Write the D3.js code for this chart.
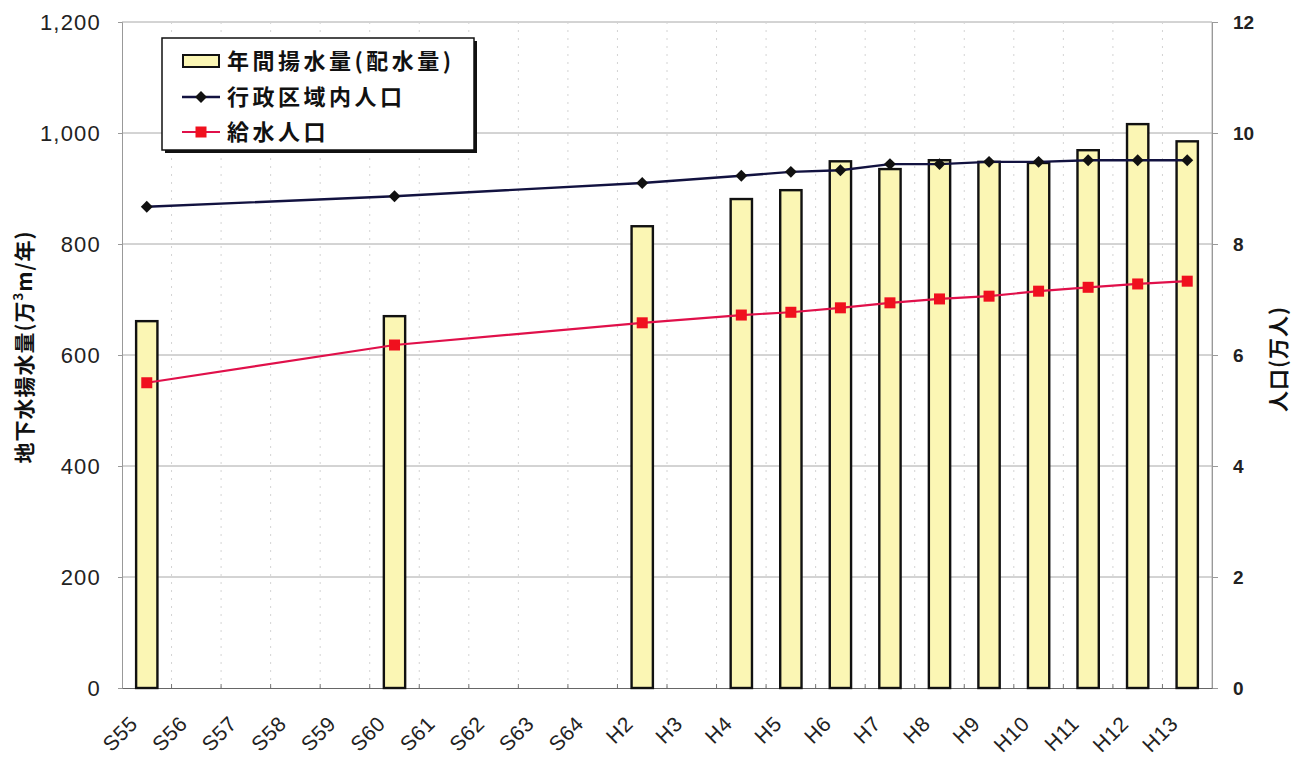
<!DOCTYPE html>
<html>
<head>
<meta charset="utf-8">
<script src="https://cdn.jsdelivr.net/npm/d3@7"></script>
<style>
  body { margin: 0; background: #fff; }
  text { font-family: "Liberation Sans", Arial, sans-serif; }
  .jp { font-family: "Noto Sans CJK JP", sans-serif; font-weight: bold; }
</style>
</head>
<body>
<div id="chart"></div>
<script>
// categories (fiscal years)
var categories = ["S55","S56","S57","S58","S59","S60","S61","S62","S63","S64",
                  "H2","H3","H4","H5","H6","H7","H8","H9","H10","H11","H12","H13"];

// annual pumped volume (万m3/年), null = no data
var pumping = [661,null,null,null,null,670,null,null,null,null,
               832,null,881,897,949,935,951,948,946,969,1016,985];

// population in administrative area (万人)
var adminPop = [8.67,null,null,null,null,8.86,null,null,null,null,
                9.10,null,9.23,9.30,9.33,9.44,9.44,9.48,9.48,9.51,9.51,9.51];

// served population (万人)
var servedPop = [5.50,null,null,null,null,6.18,null,null,null,null,
                 6.58,null,6.72,6.77,6.85,6.94,7.01,7.06,7.15,7.22,7.28,7.33];

var leftTicks = [0,200,400,600,800,1000,1200];
var rightTicks = [0,2,4,6,8,10,12];

var legendLabels = ["年間揚水量(配水量)", "行政区域内人口", "給水人口"];

// SVG area
var svgWidth = 1307;
var svgHeight = 760;

var margin = { top: 22, right: 95, bottom: 72, left: 122 };

var width = svgWidth - margin.left - margin.right;
var height = svgHeight - margin.top - margin.bottom;

var svg = d3.select("#chart")
    .append("svg")
    .attr("width", svgWidth)
    .attr("height", svgHeight);

var chartGroup = svg.append("g").attr("transform", `translate(${margin.left}, ${margin.top})`);

// scales
var xScale = d3.scaleBand().domain(categories).range([0, width]);
var yLeft = d3.scaleLinear().domain([0, 1200]).range([height, 0]);
var yRight = d3.scaleLinear().domain([0, 12]).range([height, 0]);

// horizontal gridlines
chartGroup.append("g")
    .selectAll("line")
    .data(leftTicks.slice(1))
    .enter()
    .append("line")
    .attr("x1", 0)
    .attr("x2", width)
    .attr("y1", d => yLeft(d))
    .attr("y2", d => yLeft(d))
    .attr("stroke", "#a8a8a8")
    .attr("stroke-width", 1);

// vertical dotted gridlines on category boundaries
chartGroup.append("g")
    .selectAll("line")
    .data(categories.slice(1))
    .enter()
    .append("line")
    .attr("x1", d => xScale(d))
    .attr("x2", d => xScale(d))
    .attr("y1", 0)
    .attr("y2", height)
    .attr("stroke", "#d4d4d4")
    .attr("stroke-dasharray", "2,6");

// right border of plot
chartGroup.append("line")
    .attr("x1", width).attr("x2", width)
    .attr("y1", 0).attr("y2", height)
    .attr("stroke", "#b0b0b0");

// left axis
var leftAxis = d3.axisLeft(yLeft).tickValues(leftTicks).tickSize(4).tickPadding(17)
    .tickFormat(d3.format(","));
var gLeft = chartGroup.append("g").call(leftAxis);
gLeft.select(".domain").attr("stroke", "#999");
gLeft.selectAll(".tick line").attr("stroke", "#999");
gLeft.selectAll("text")
    .attr("font-size", 22)
    .attr("letter-spacing", 1.2)
    .attr("fill", "#222")
    .attr("font-family", "Liberation Sans, Arial, sans-serif");

// right axis
var rightAxis = d3.axisRight(yRight).tickValues(rightTicks).tickSize(6).tickPadding(15);
var gRight = chartGroup.append("g")
    .attr("transform", `translate(${width}, 0)`)
    .call(rightAxis);
gRight.select(".domain").attr("stroke", "#999");
gRight.selectAll(".tick line").attr("stroke", "#999");
gRight.selectAll("text")
    .attr("font-size", 19)
    .attr("font-weight", "bold")
    .attr("fill", "#222")
    .attr("font-family", "Liberation Sans, Arial, sans-serif");

// bottom axis
var bottomAxis = d3.axisBottom(xScale).tickSize(0).tickPadding(0);
var gBottom = chartGroup.append("g")
    .attr("transform", `translate(0, ${height})`)
    .call(bottomAxis);
gBottom.select(".domain").attr("stroke", "#666");
gBottom.selectAll("text")
    .attr("font-size", 21)
    .attr("letter-spacing", 0.5)
    .attr("fill", "#222")
    .attr("font-family", "Liberation Sans, Arial, sans-serif")
    .attr("text-anchor", "end")
    .attr("y", 0)
    .attr("dy", "0.35em")
    .attr("transform", "translate(-13, 32) rotate(-45)");

// small tick marks on category boundaries
gBottom.append("g")
    .selectAll("line")
    .data(categories.slice(1))
    .enter()
    .append("line")
    .attr("x1", d => xScale(d))
    .attr("x2", d => xScale(d))
    .attr("y1", 0)
    .attr("y2", -4)
    .attr("stroke", "#777");

// bars
var barWidth = xScale.bandwidth() * 0.43;
var barData = categories.map((c, i) => ({ cat: c, value: pumping[i] })).filter(d => d.value !== null);

chartGroup.selectAll(".bar")
    .data(barData)
    .enter()
    .append("rect")
    .attr("class", "bar")
    .attr("x", d => xScale(d.cat) + xScale.bandwidth() / 2 - barWidth / 2)
    .attr("y", d => yLeft(d.value))
    .attr("width", barWidth)
    .attr("height", d => height - yLeft(d.value))
    .attr("fill", "#fbf6b4")
    .attr("stroke", "#111")
    .attr("stroke-width", 2.4);

// lines
var cx = d => xScale(d.cat) + xScale.bandwidth() / 2;
var line = d3.line().x(cx).y(d => yRight(d.value));

var adminData = categories.map((c, i) => ({ cat: c, value: adminPop[i] })).filter(d => d.value !== null);
var servedData = categories.map((c, i) => ({ cat: c, value: servedPop[i] })).filter(d => d.value !== null);

chartGroup.append("path")
    .datum(adminData)
    .attr("d", line)
    .attr("fill", "none")
    .attr("stroke", "#121240")
    .attr("stroke-width", 2.4);

chartGroup.selectAll(".diamond")
    .data(adminData)
    .enter()
    .append("path")
    .attr("class", "diamond")
    .attr("d", d3.symbol().type(d3.symbolDiamond2).size(90))
    .attr("transform", d => `translate(${cx(d)}, ${yRight(d.value)})`)
    .attr("fill", "#111");

chartGroup.append("path")
    .datum(servedData)
    .attr("d", line)
    .attr("fill", "none")
    .attr("stroke", "#e0104a")
    .attr("stroke-width", 2.2);

chartGroup.selectAll(".square")
    .data(servedData)
    .enter()
    .append("rect")
    .attr("class", "square")
    .attr("x", d => cx(d) - 5.5)
    .attr("y", d => yRight(d.value) - 5.5)
    .attr("width", 11)
    .attr("height", 11)
    .attr("fill", "#f0101e");

// axis titles
var leftTitle = svg.append("text")
    .attr("class", "jp")
    .attr("transform", "translate(32, 347) rotate(-90)")
    .attr("text-anchor", "middle")
    .attr("font-size", 21)
    .attr("letter-spacing", 1)
    .attr("fill", "#111");
leftTitle.append("tspan").text("地下水揚水量(万");
leftTitle.append("tspan").attr("baseline-shift", "super").attr("font-size", 13).text("3");
leftTitle.append("tspan").text("m/年)");

svg.append("text")
    .attr("class", "jp")
    .attr("transform", "translate(1286, 359) rotate(-90)")
    .attr("text-anchor", "middle")
    .attr("font-size", 21)
    .attr("letter-spacing", 1)
    .attr("fill", "#111")
    .text("人口(万人)");

// legend
var legend = svg.append("g").attr("transform", "translate(162, 38)");
legend.append("rect")
    .attr("x", 3).attr("y", 3)
    .attr("width", 312).attr("height", 112)
    .attr("fill", "#111");
legend.append("rect")
    .attr("x", 0).attr("y", 0)
    .attr("width", 312).attr("height", 112)
    .attr("fill", "#fff")
    .attr("stroke", "#111")
    .attr("stroke-width", 1.5);

var rowY = [23, 59, 94];

legend.append("rect")
    .attr("x", 21).attr("y", rowY[0] - 6)
    .attr("width", 36).attr("height", 12)
    .attr("fill", "#fbf6b4")
    .attr("stroke", "#111")
    .attr("stroke-width", 2);

legend.append("line")
    .attr("x1", 20).attr("x2", 58)
    .attr("y1", rowY[1]).attr("y2", rowY[1])
    .attr("stroke", "#121240").attr("stroke-width", 2.4);
legend.append("path")
    .attr("d", d3.symbol().type(d3.symbolDiamond2).size(90))
    .attr("transform", `translate(39, ${rowY[1]})`)
    .attr("fill", "#111");

legend.append("line")
    .attr("x1", 20).attr("x2", 58)
    .attr("y1", rowY[2]).attr("y2", rowY[2])
    .attr("stroke", "#e0104a").attr("stroke-width", 2.2);
legend.append("rect")
    .attr("x", 33.5).attr("y", rowY[2] - 5.5)
    .attr("width", 11).attr("height", 11)
    .attr("fill", "#f0101e");

legend.selectAll(".legendText")
    .data(legendLabels)
    .enter()
    .append("text")
    .attr("class", "jp")
    .attr("x", 65)
    .attr("y", (d, i) => rowY[i])
    .attr("dy", "0.36em")
    .attr("font-size", 22)
    .attr("letter-spacing", 3.5)
    .attr("fill", "#111")
    .text(d => d);
</script>
</body>
</html>
